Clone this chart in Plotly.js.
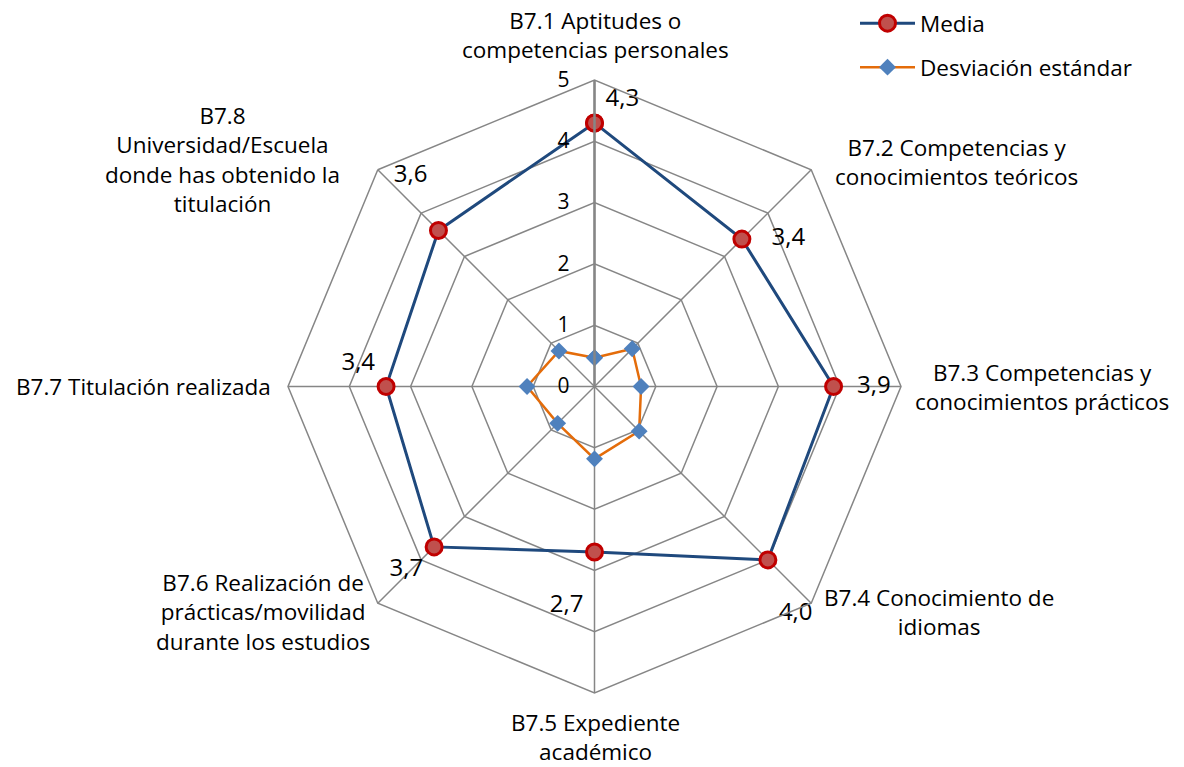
<!DOCTYPE html>
<html>
<head>
<meta charset="utf-8">
<script src="https://cdn.plot.ly/plotly-3.0.1.min.js"></script>
<style>html,body{margin:0;padding:0;background:#fff;}#chart{width:1184px;height:767px;}</style>
</head>
<body>
<div id="chart"></div>
<script>
// ---- data ----
const categories = [
  "B7.1 Aptitudes o competencias personales",
  "B7.2 Competencias y conocimientos teóricos",
  "B7.3 Competencias y conocimientos prácticos",
  "B7.4 Conocimiento de idiomas",
  "B7.5 Expediente académico",
  "B7.6 Realización de prácticas/movilidad durante los estudios",
  "B7.7 Titulación realizada",
  "B7.8 Universidad/Escuela donde has obtenido la titulación"
];
const categoryLabels = [
  "B7.1 Aptitudes o<br>competencias personales",
  "B7.2 Competencias y<br>conocimientos teóricos",
  "B7.3 Competencias y<br>conocimientos prácticos",
  "B7.4 Conocimiento de<br>idiomas",
  "B7.5 Expediente<br>académico",
  "B7.6 Realización de<br>prácticas/movilidad<br>durante los estudios",
  "B7.7 Titulación realizada",
  "B7.8<br>Universidad/Escuela<br>donde has obtenido la<br>titulación"
];
const media = [4.3, 3.4, 3.9, 4.0, 2.7, 3.7, 3.4, 3.6];
const desviacion = [0.47, 0.87, 0.76, 1.03, 1.18, 0.85, 1.10, 0.82];
const seriesNames = ["Media", "Desviación estándar"];
const radialTicks = [0, 1, 2, 3, 4, 5];

// ---- styling / placement ----
const labelPos = [
  [595, 35], [957, 162], [1042, 387], [939, 612],
  [595, 737], [263, 612], [143, 386], [222, 159]
];
const W = 1184, H = 767;
const FONT = "Open Sans, Noto Sans, sans-serif";
const nb = "\u00a0";
const mediaTextPos = ["top right", "middle right", "middle right", "bottom right",
                      "bottom left", "bottom left", "top left", "top left"];
const mediaTemplates = ["%{r:.1f}", nb+nb+nb+"%{r:.1f}", nb+nb+"%{r:.1f}", "<br>%{r:.1f}",
                        "<br>%{r:.1f}", "%{r:.1f}", "%{r:.1f}", "%{r:.1f}<br>" + nb];

const thetaClosed = categories.concat([categories[0]]);
const traces = [
  {
    type: "scatterpolar",
    name: seriesNames[0],
    r: media.concat([media[0]]),
    theta: thetaClosed,
    mode: "lines+markers+text",
    texttemplate: mediaTemplates.concat([""]),
    textposition: mediaTextPos.concat(["top right"]),
    textfont: {family: FONT, size: 24, color: "#000"},
    line: {color: "#1F497D", width: 3},
    marker: {symbol: "circle", size: 16, color: "#C0504D", line: {color: "#C00000", width: 3}},
    legend: "legend",
    hoverinfo: "skip"
  },
  {
    type: "scatterpolar",
    name: seriesNames[1],
    r: desviacion.concat([desviacion[0]]),
    theta: thetaClosed,
    mode: "lines+markers",
    line: {color: "#E46C0A", width: 2.5},
    marker: {symbol: "diamond", size: 13, color: "#4F81BD", line: {width: 0}},
    legend: "legend2",
    hoverinfo: "skip"
  }
];

const annotations = categoryLabels.map((t, i) => ({
  text: t, xref: "paper", yref: "paper",
  x: labelPos[i][0] / W, y: 1 - labelPos[i][1] / H,
  xanchor: "center", yanchor: "middle", align: "center", showarrow: false,
  font: {family: FONT, size: 22.5, color: "#000"}
}));

const cx = 594.5, cy = 386.5, R = 306.5;
const layout = {
  width: W, height: H,
  margin: {l: 0, r: 0, t: 0, b: 0},
  paper_bgcolor: "#fff",
  separators: ",.",
  showlegend: true,
  polar: {
    domain: {x: [(cx - R) / W, (cx + R) / W], y: [(H - cy - R) / H, (H - cy + R) / H]},
    bgcolor: "#fff",
    gridshape: "linear",
    radialaxis: {
      range: [0, 5], tickvals: radialTicks, ticktext: radialTicks.map(v => String(v) + nb + nb + nb),
      angle: 90, side: "counterclockwise", tickangle: 90,
      showline: true, linecolor: "#868686", linewidth: 2.5,
      gridcolor: "#868686", gridwidth: 1.5, ticks: "",
      tickfont: {family: FONT, size: 21, color: "#000"}
    },
    angularaxis: {
      type: "category", direction: "clockwise", rotation: 90,
      showticklabels: false, ticks: "",
      showline: true, linecolor: "#868686", linewidth: 1.5,
      gridcolor: "#868686", gridwidth: 1.5
    }
  },
  legend: {x: 855 / W, y: 1 - 2 / H, xanchor: "left", yanchor: "top", itemwidth: 55,
           font: {family: FONT, size: 22.5, color: "#000"}, bgcolor: "rgba(0,0,0,0)"},
  legend2: {x: 855 / W, y: 1 - 46 / H, xanchor: "left", yanchor: "top", itemwidth: 55,
           font: {family: FONT, size: 22.5, color: "#000"}, bgcolor: "rgba(0,0,0,0)"},
  annotations: annotations
};

Plotly.newPlot("chart", traces, layout, {displayModeBar: false, staticPlot: true});
</script>
</body>
</html>
